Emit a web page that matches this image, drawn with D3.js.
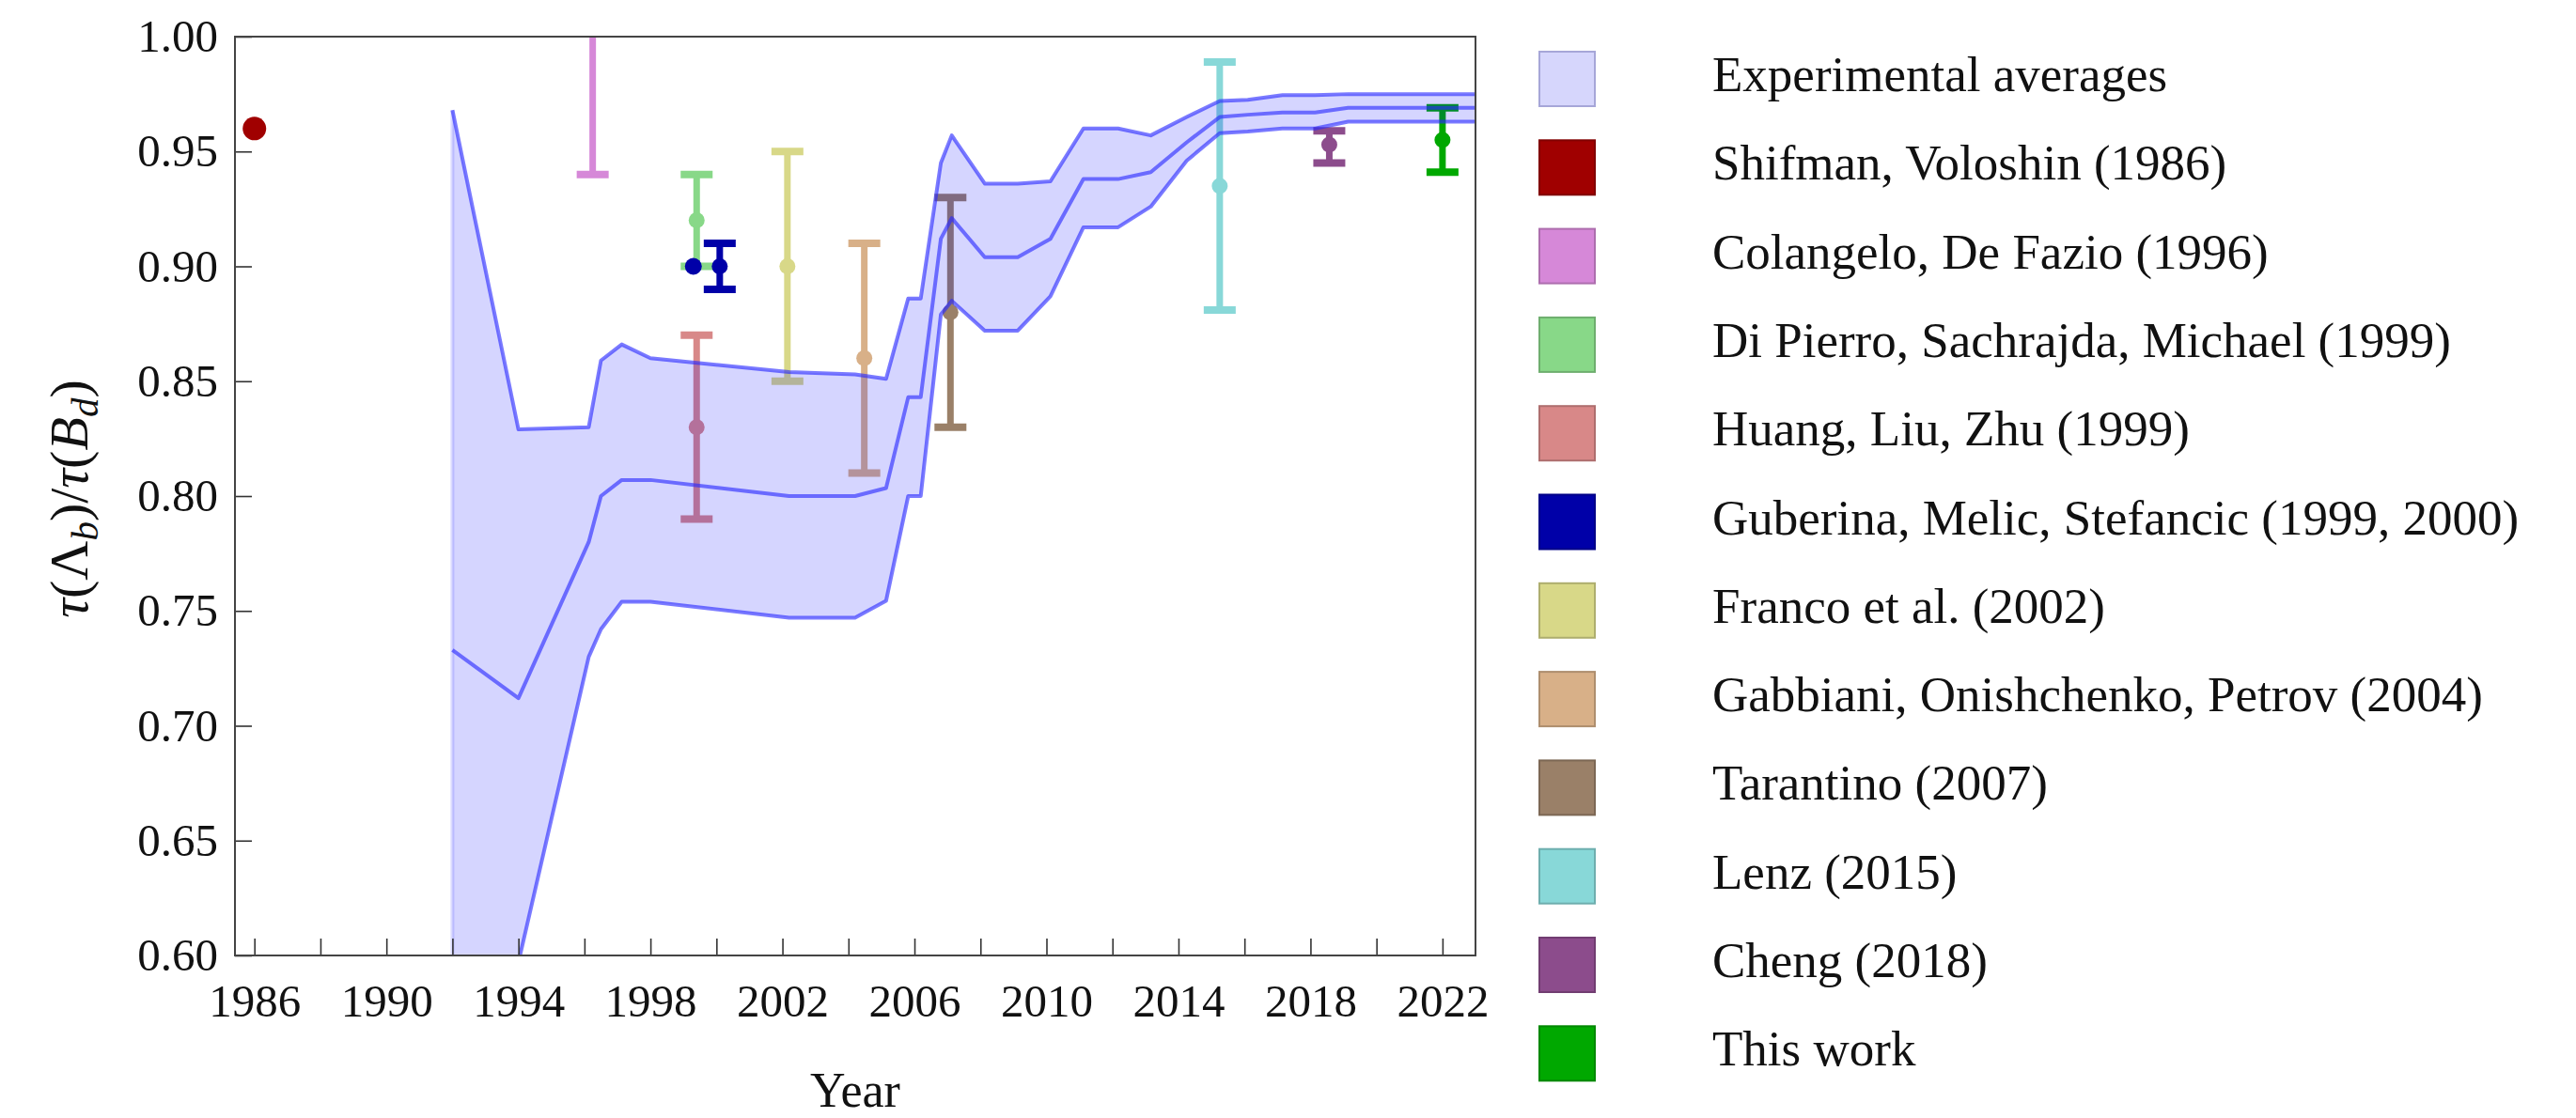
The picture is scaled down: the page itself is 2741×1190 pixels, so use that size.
<!DOCTYPE html>
<html>
<head>
<meta charset="utf-8">
<script src="https://cdn.jsdelivr.net/npm/d3@7"></script>
<style>
  html, body { margin: 0; padding: 0; background: #fff; }
  svg { display: block; }
</style>
</head>
<body>
<svg id="chart" width="2741" height="1190"></svg>
<script>
// ---- Experimental average band (lower / central / upper) by year ----
const bandYears   = [1992, 1994, 1996.13, 1996.5, 1997.13, 1998, 2002.2, 2004.2, 2005.14, 2005.81, 2006.19, 2006.8, 2007.13, 2008.13, 2009.13, 2010.12, 2011.12, 2012.17, 2013.16, 2014.25, 2015.25, 2016.1, 2017.15, 2018.14, 2019.14, 2023];
const bandUpper   = [0.968, 0.829, 0.830, 0.859, 0.866, 0.860, 0.854, 0.853, 0.851, 0.886, 0.886, 0.945, 0.957, 0.936, 0.936, 0.937, 0.960, 0.960, 0.957, 0.965, 0.972, 0.9725, 0.9745, 0.9745, 0.975, 0.975];
const bandCentral = [0.733, 0.712, 0.780, 0.800, 0.807, 0.807, 0.800, 0.800, 0.8035, 0.843, 0.843, 0.912, 0.921, 0.904, 0.904, 0.912, 0.938, 0.938, 0.941, 0.954, 0.965, 0.966, 0.967, 0.967, 0.969, 0.969];
const bandLower   = [0.450, 0.597, 0.730, 0.742, 0.754, 0.754, 0.747, 0.747, 0.7544, 0.800, 0.800, 0.879, 0.885, 0.872, 0.872, 0.887, 0.917, 0.917, 0.926, 0.946, 0.958, 0.9587, 0.960, 0.960, 0.963, 0.963];

// ---- Theory estimates ----
const legendLabels = [
  "Experimental averages",
  "Shifman, Voloshin (1986)",
  "Colangelo, De Fazio (1996)",
  "Di Pierro, Sachrajda, Michael (1999)",
  "Huang, Liu, Zhu (1999)",
  "Guberina, Melic, Stefancic (1999, 2000)",
  "Franco et al. (2002)",
  "Gabbiani, Onishchenko, Petrov (2004)",
  "Tarantino (2007)",
  "Lenz (2015)",
  "Cheng (2018)",
  "This work"
];
// each estimate: legend entry, year, central value, upper / lower error (null = point only)
const pointSeries = [1, 2, 3, 4, 5, 5, 6, 7, 8, 9, 10, 11];
const pointYears  = [1986, 1996.25, 1999.4, 1999.4, 1999.3, 2000.1, 2002.15, 2004.48, 2007.09, 2015.25, 2018.57, 2022.0];
const pointValues = [0.96, 1.02, 0.92, 0.83, 0.90, 0.90, 0.90, 0.86, 0.88, 0.935, 0.953, 0.955];
const pointErrUp  = [null, 0.08, 0.02, 0.04, null, 0.01, 0.05, 0.05, 0.05, 0.054, 0.006, 0.014];
const pointErrDn  = [null, 0.08, 0.02, 0.04, null, 0.01, 0.05, 0.05, 0.05, 0.054, 0.008, 0.014];

// ---- Axis ticks ----
const xTickYears  = d3.range(1986, 2023, 2);
const xTickLabels = ["1986", "1990", "1994", "1998", "2002", "2006", "2010", "2014", "2018", "2022"];
const yTickValues = [0.60, 0.65, 0.70, 0.75, 0.80, 0.85, 0.90, 0.95, 1.00];

// ---- Styling ----
const seriesColors = ["#d6d6fc", "#a00000", "#d688d8", "#88d888", "#d88888", "#0000a8",
                      "#d8d888", "#d8b088", "#9a8068", "#88d8d8", "#8c4c8c", "#00a800"];
const FONT = "'Liberation Serif', 'Times New Roman', serif";

const svg = d3.select("#chart");
const plot = { left: 250, right: 1570, top: 39, bottom: 1017 };

const x = d3.scaleLinear().domain([1985.41, 2023]).range([plot.left, plot.right]);
const y = d3.scaleLinear().domain([0.60, 1.00]).range([plot.bottom, plot.top]);

svg.append("defs").append("clipPath").attr("id", "plotClip")
  .append("rect")
  .attr("x", plot.left).attr("y", plot.top)
  .attr("width", plot.right - plot.left).attr("height", plot.bottom - plot.top);

const inner = svg.append("g").attr("clip-path", "url(#plotClip)");

// error bars and points
const pts = pointYears.map((yr, i) => ({
  year: yr, v: pointValues[i], up: pointErrUp[i], dn: pointErrDn[i],
  color: seriesColors[pointSeries[i]], series: pointSeries[i]
}));

const capHalf = 17;
pts.forEach(p => {
  const g = inner.append("g");
  const cx = x(p.year);
  if (p.up !== null) {
    g.append("line")
      .attr("x1", cx).attr("x2", cx)
      .attr("y1", y(p.v - p.dn)).attr("y2", y(p.v + p.up))
      .attr("stroke", p.color).attr("stroke-width", 7);
    [p.v - p.dn, p.v + p.up].forEach(e => {
      g.append("line")
        .attr("x1", cx - capHalf).attr("x2", cx + capHalf)
        .attr("y1", y(e)).attr("y2", y(e))
        .attr("stroke", p.color).attr("stroke-width", 8);
    });
    g.append("circle").attr("cx", cx).attr("cy", y(p.v)).attr("r", 8.5).attr("fill", p.color);
  } else {
    g.append("circle").attr("cx", cx).attr("cy", y(p.v))
      .attr("r", p.series === 1 ? 12.5 : 9).attr("fill", p.color);
  }
});

// experimental band drawn over the estimates
const band = bandYears.map((yr, i) => ({ year: yr, lo: bandLower[i], mid: bandCentral[i], hi: bandUpper[i] }));

inner.append("path").datum(band)
  .attr("d", d3.area().x(d => x(d.year)).y0(d => y(d.lo)).y1(d => y(d.hi)))
  .attr("fill", "rgba(0,0,255,0.165)");

// faint left edge of the band
inner.append("line")
  .attr("x1", x(bandYears[0])).attr("x2", x(bandYears[0]))
  .attr("y1", y(bandUpper[0])).attr("y2", y(bandLower[0]))
  .attr("stroke", "rgba(90,90,255,0.22)").attr("stroke-width", 4);

["lo", "mid", "hi"].forEach(k => {
  inner.append("path").datum(band)
    .attr("d", d3.line().x(d => x(d.year)).y(d => y(d[k])))
    .attr("fill", "none")
    .attr("stroke", "rgba(40,40,255,0.62)")
    .attr("stroke-width", 4)
    .attr("stroke-linejoin", "round");
});

// axes with inward ticks
const xAxis = d3.axisBottom(x)
  .tickValues(xTickYears)
  .tickSizeInner(-18).tickSizeOuter(0).tickPadding(30)
  .tickFormat(d => xTickLabels.includes(String(d)) ? String(d) : "");
const gx = svg.append("g").attr("transform", `translate(0,${plot.bottom})`).call(xAxis);

const yAxis = d3.axisLeft(y)
  .tickValues(yTickValues)
  .tickSizeInner(-18).tickSizeOuter(0).tickPadding(18)
  .tickFormat(d3.format(".2f"));
const gy = svg.append("g").attr("transform", `translate(${plot.left},0)`).call(yAxis);

[gx, gy].forEach(g => {
  g.select(".domain").remove();
  g.selectAll(".tick line").attr("stroke", "#333").attr("stroke-width", 1.6);
  g.selectAll(".tick text")
    .attr("font-family", FONT).attr("font-size", 49).attr("fill", "#111");
});

// frame
svg.append("rect")
  .attr("x", plot.left).attr("y", plot.top)
  .attr("width", plot.right - plot.left).attr("height", plot.bottom - plot.top)
  .attr("fill", "none").attr("stroke", "#444").attr("stroke-width", 2);

// axis titles
svg.append("text")
  .attr("x", (plot.left + plot.right) / 2).attr("y", 1178)
  .attr("text-anchor", "middle")
  .attr("font-family", FONT).attr("font-size", 52).attr("fill", "#111")
  .text("Year");

const yt = svg.append("text")
  .attr("transform", "translate(93,531) rotate(-90)")
  .attr("text-anchor", "middle")
  .attr("font-family", FONT).attr("font-size", 58).attr("fill", "#111");
yt.append("tspan").attr("font-style", "italic").text("τ");
yt.append("tspan").text("(Λ");
yt.append("tspan").attr("font-style", "italic").attr("font-size", 41).attr("dy", 11).text("b");
yt.append("tspan").attr("dy", -11).text(")/");
yt.append("tspan").attr("font-style", "italic").text("τ");
yt.append("tspan").text("(");
yt.append("tspan").attr("font-style", "italic").text("B");
yt.append("tspan").attr("font-style", "italic").attr("font-size", 41).attr("dy", 11).text("d");
yt.append("tspan").attr("dy", -11).text(")");

// legend
const legend = svg.append("g");
const rowStep = 94.3, firstRow = 84;
legendLabels.forEach((lab, i) => {
  const cy = firstRow + i * rowStep;
  const c = seriesColors[i];
  legend.append("rect")
    .attr("x", 1638).attr("y", cy - 29).attr("width", 59).attr("height", 58)
    .attr("fill", c)
    .attr("stroke", i === 0 ? "#a6a6d8" : d3.color(c).darker(0.6))
    .attr("stroke-width", 2);
  legend.append("text")
    .attr("x", 1822).attr("y", cy + 13)
    .attr("font-family", FONT).attr("font-size", 53).attr("fill", "#111")
    .text(lab);
});
</script>
</body>
</html>
